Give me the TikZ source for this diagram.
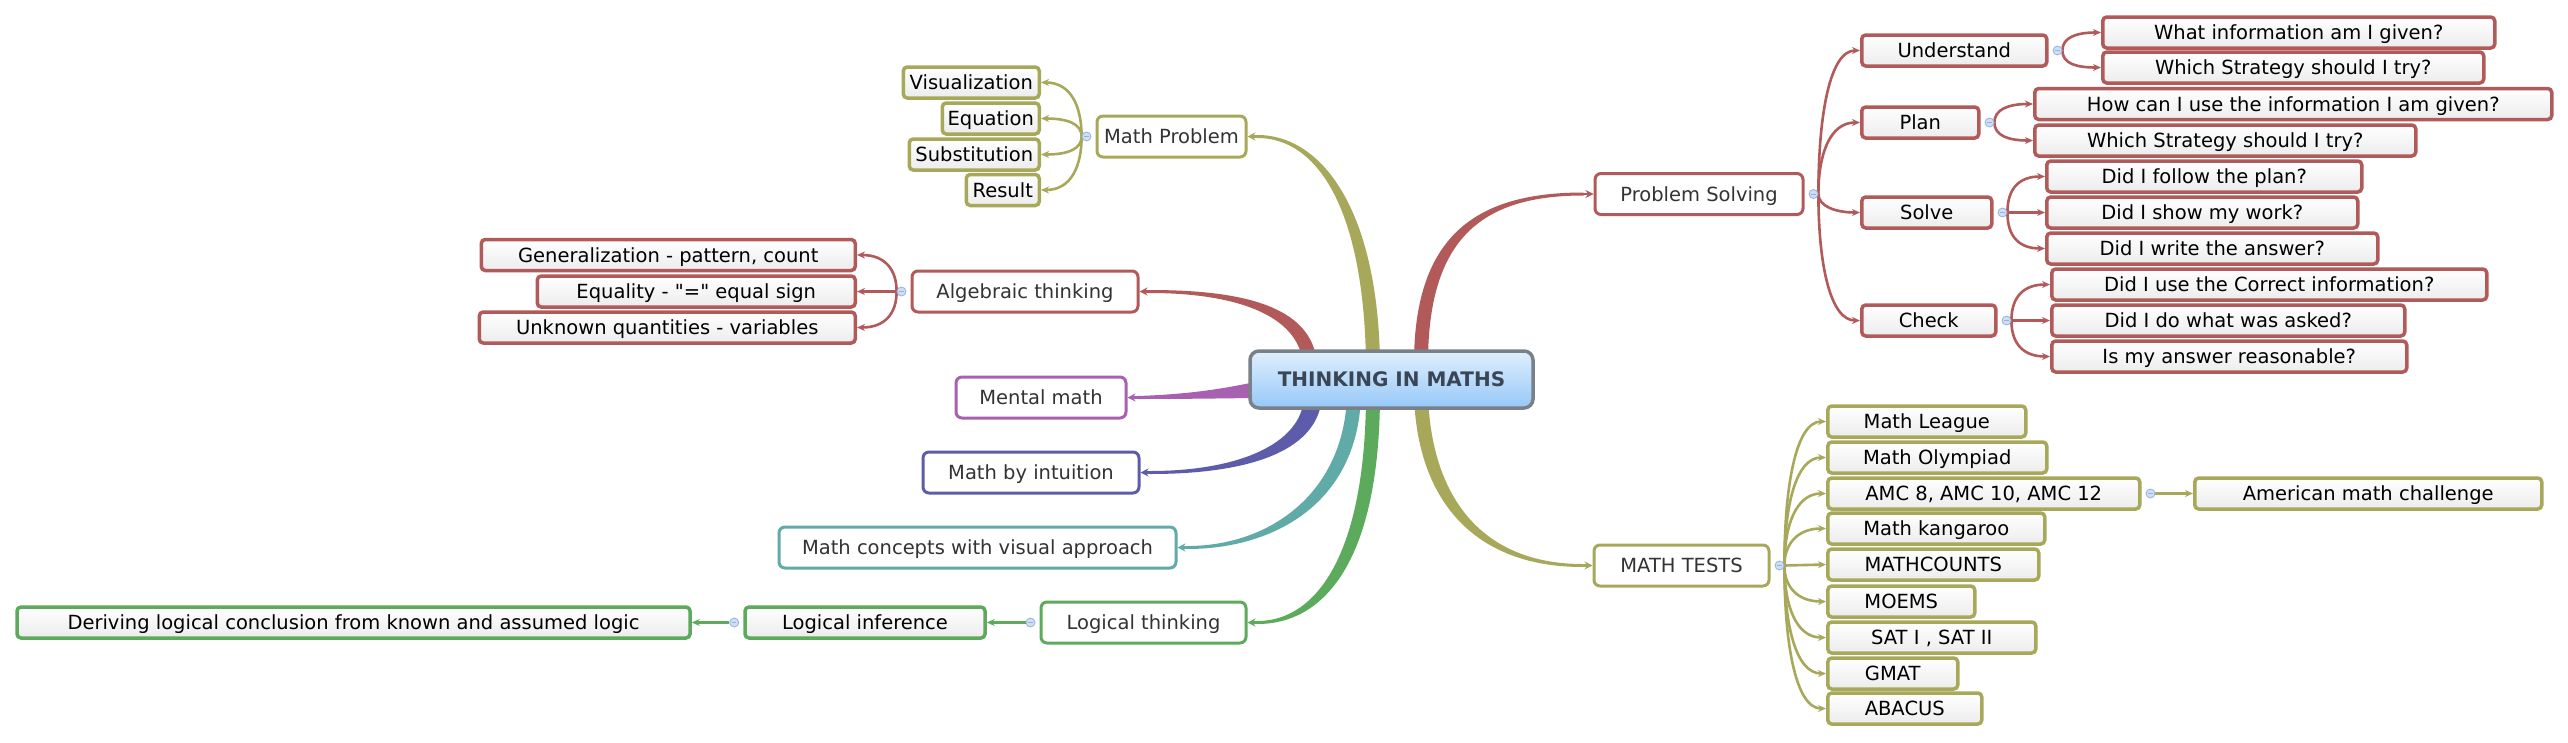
\documentclass[tikz,border=0pt]{standalone}
\usepackage{fontspec}
\setmainfont{DejaVu Sans}[Ligatures=TeXOff]
\usetikzlibrary{arrows.meta,calc,backgrounds}
\definecolor{redc}{RGB}{178,90,90}
\definecolor{olivec}{RGB}{168,168,90}
\definecolor{purplec}{RGB}{168,96,176}
\definecolor{bluec}{RGB}{92,92,170}
\definecolor{tealc}{RGB}{96,170,168}
\definecolor{greenc}{RGB}{92,170,92}
\definecolor{leafbot}{RGB}{236,236,236}
\definecolor{lonetext}{RGB}{51,51,51}
\definecolor{titletext}{RGB}{58,70,85}
\definecolor{ctop}{RGB}{224,239,253}
\definecolor{cbot}{RGB}{150,200,248}
\definecolor{cborder}{RGB}{122,128,136}
\definecolor{dotfill}{RGB}{205,222,245}
\definecolor{dotdraw}{RGB}{150,178,218}
\tikzset{
  lone/.style={draw=#1, line width=3pt, fill=white, rounded corners=6pt, minimum height=41pt, inner sep=0pt, text height=14.2pt, text depth=0pt, text=lonetext, font=\fontsize{19.5}{23}\selectfont},
  ltwo/.style={draw=#1, line width=3.5pt, top color=white, bottom color=leafbot, rounded corners=4pt, minimum height=31pt, inner sep=0pt, text height=14.2pt, text depth=0pt, text=black, font=\fontsize{19.5}{23}\selectfont},
  dot/.style={circle, fill=dotfill, draw=dotdraw, line width=0.8pt, minimum size=9pt, inner sep=0pt,
    path picture={\draw[dotdraw, line width=0.8pt] ([xshift=-2.2pt]path picture bounding box.center) -- ([xshift=2.2pt]path picture bounding box.center);}},
  subline/.style={draw=#1, line width=2.6pt, -{Stealth[length=8pt,width=7pt]}},
  thinarrow/.style={draw=#1, line width=2.5pt, -{Stealth[length=8pt,width=8pt]}},
}
\begin{document}
\begin{tikzpicture}[x=1pt,y=-1pt]
\useasboundingbox (0,0) rectangle (2568,742);
% centre
\node[draw=cborder, line width=3.5pt, top color=ctop, bottom color=cbot, rounded corners=9pt, minimum width=283pt, minimum height=57pt, inner sep=0pt, text height=14.6pt, text depth=0pt, font=\bfseries\fontsize{20}{24}\selectfont, text=titletext] (c) at (1391.5,379.5) {THINKING IN MATHS};
% level one
\node[lone=redc, minimum width=208pt] (ps) at (1699,194) {Problem Solving};
\node[lone=olivec, minimum width=175pt] (mt) at (1681.5,565.5) {MATH TESTS};
\node[lone=olivec, minimum width=149pt] (mp) at (1171.5,136.5) {Math Problem};
\node[lone=redc, minimum width=226pt] (alg) at (1025,291.5) {Algebraic thinking};
\node[lone=purplec, minimum width=170pt] (mm) at (1041,397.5) {Mental math};
\node[lone=bluec, minimum width=216pt] (mbi) at (1031,472.5) {Math by intuition};
\node[lone=tealc, minimum width=397pt] (mc) at (977.5,547.5) {Math concepts with visual approach};
\node[lone=greenc, minimum width=205pt] (lt) at (1143.5,622.5) {Logical thinking};
% problem solving subtree
\node[ltwo=redc, minimum width=185pt, anchor=west] (und) at (1860,50.5) {Understand};
\node[ltwo=redc, minimum width=117pt, anchor=west] (pla) at (1860,122.5) {Plan};
\node[ltwo=redc, minimum width=130pt, anchor=west] (sol) at (1860,212.5) {Solve};
\node[ltwo=redc, minimum width=134pt, anchor=west] (chk) at (1860,320.5) {Check};
\node[ltwo=redc, minimum width=392pt, anchor=west] (wi) at (2101,32.5) {What information am I given?};
\node[ltwo=redc, minimum width=381pt, anchor=west] (wsa) at (2101,67.5) {Which Strategy should I try?};
\node[ltwo=redc, minimum width=517pt, anchor=west] (hc) at (2033,104) {How can I use the information I am given?};
\node[ltwo=redc, minimum width=381pt, anchor=west] (wsb) at (2033,140.5) {Which Strategy should I try?};
\node[ltwo=redc, minimum width=315pt, anchor=west] (dfp) at (2045,176.5) {Did I follow the plan?};
\node[ltwo=redc, minimum width=311pt, anchor=west] (dsw) at (2045,212.5) {Did I show my work?};
\node[ltwo=redc, minimum width=331pt, anchor=west] (dwa) at (2045,248.5) {Did I write the answer?};
\node[ltwo=redc, minimum width=435pt, anchor=west] (duc) at (2050,284.5) {Did I use the Correct information?};
\node[ltwo=redc, minimum width=353pt, anchor=west] (ddw) at (2050,320.5) {Did I do what was asked?};
\node[ltwo=redc, minimum width=355pt, anchor=west] (iar) at (2050,356.5) {Is my answer reasonable?};
% math tests subtree
\node[ltwo=olivec, minimum width=198pt, anchor=west] (mlg) at (1826,421.5) {Math League};
\node[ltwo=olivec, minimum width=219pt, anchor=west] (mol) at (1826,457.5) {Math Olympiad};
\node[ltwo=olivec, minimum width=312pt, anchor=west] (amc) at (1826,493.5) {AMC 8, AMC 10, AMC 12};
\node[ltwo=olivec, minimum width=347pt, anchor=west] (amer) at (2193,493.5) {American math challenge};
\node[ltwo=olivec, minimum width=217pt, anchor=west] (mkg) at (1826,528.5) {Math kangaroo};
\node[ltwo=olivec, minimum width=211pt, anchor=west] (mcn) at (1826,564.5) {MATHCOUNTS};
\node[ltwo=olivec, minimum width=147pt, anchor=west] (moe) at (1826,601.5) {MOEMS};
\node[ltwo=olivec, minimum width=208pt, anchor=west] (sat) at (1826,637.5) {SAT I , SAT II};
\node[ltwo=olivec, minimum width=130pt, anchor=west] (gma) at (1826,673.5) {GMAT};
\node[ltwo=olivec, minimum width=154pt, anchor=west] (aba) at (1826,708.5) {ABACUS};
% math problem subtree
\node[ltwo=olivec, minimum width=136pt, anchor=east] (vis) at (1041,82.5) {Visualization};
\node[ltwo=olivec, minimum width=97pt, anchor=east] (equ) at (1041,118.5) {Equation};
\node[ltwo=olivec, minimum width=130pt, anchor=east] (sub) at (1041,154.5) {Substitution};
\node[ltwo=olivec, minimum width=73pt, anchor=east] (res) at (1041,190) {Result};
% algebraic subtree
\node[ltwo=redc, minimum width=374pt, anchor=east] (gen) at (857,255) {Generalization - pattern, count};
\node[ltwo=redc, minimum width=318pt, anchor=east] (eqs) at (857,291.5) {Equality - "=" equal sign};
\node[ltwo=redc, minimum width=376pt, anchor=east] (unk) at (857,327.5) {Unknown quantities - variables};
% logical subtree
\node[ltwo=greenc, minimum width=240pt] (li) at (865,622.5) {Logical inference};
\node[ltwo=greenc, minimum width=673pt] (der) at (353.5,622.5) {Deriving logical conclusion from known and assumed logic};
% collapse dots
\node[dot] (psd) at ($(ps.east)+(9,0)$) {};
\node[dot] (undd) at ($(und.east)+(9,0)$) {};
\node[dot] (plad) at ($(pla.east)+(9,0)$) {};
\node[dot] (sold) at ($(sol.east)+(9,0)$) {};
\node[dot] (chkd) at ($(chk.east)+(9,0)$) {};
\node[dot] (mtd) at ($(mt.east)+(9,0)$) {};
\node[dot] (amcd) at ($(amc.east)+(9,0)$) {};
\node[dot] (mpd) at ($(mp.west)+(-9,0)$) {};
\node[dot] (algd) at ($(alg.west)+(-9,0)$) {};
\node[dot] (ltd) at ($(lt.west)+(-9,0)$) {};
\node[dot] (lid) at ($(li.west)+(-9,0)$) {};

\begin{scope}[on background layer]
\fill[white] (0,0) rectangle (2568,742);
% thick branches
\fill[olivec] ($(c.north)+(-11.5,14)$) .. controls (1378,210) and (1322,135) .. ($(mp.east)+(10,-1.5)$) -- ($(mp.east)+(10,1.5)$) .. controls (1318,138) and (1364,210) .. ($(c.north)+(-25.5,14)$) -- cycle;
\fill[redc] ($(c.north)+(22.5,14)$) .. controls (1414,232) and (1480,192.5) .. ($(ps.west)+(-10,-1.5)$) -- ($(ps.west)+(-10,1.5)$) .. controls (1482,195.5) and (1428,238) .. ($(c.north)+(36.5,14)$) -- cycle;
\fill[redc] ($(c.north)+(-74.5,14)$) .. controls (1312,305) and (1240,290) .. ($(alg.east)+(10,-1.5)$) -- ($(alg.east)+(10,1.5)$) .. controls (1236,293) and (1298,315) .. ($(c.north)+(-88.5,14)$) -- cycle;
\fill[purplec] ($(c.west)+(12,1.5)$) .. controls (1235,386) and (1200,394) .. ($(mm.east)+(10,-1.5)$) -- ($(mm.east)+(10,1.5)$) .. controls (1200,399) and (1240,398) .. ($(c.west)+(12,18.5)$) -- cycle;
\fill[bluec] ($(c.south)+(-69.5,-13)$) .. controls (1318,455) and (1240,474) .. ($(mbi.east)+(10,1.5)$) -- ($(mbi.east)+(10,-1.5)$) .. controls (1236,471) and (1302,445) .. ($(c.south)+(-87.5,-13)$) -- cycle;
\fill[tealc] ($(c.south)+(-30.5,-13)$) .. controls (1357,505) and (1272,549) .. ($(mc.east)+(10,1.5)$) -- ($(mc.east)+(10,-1.5)$) .. controls (1268,546) and (1343,495) .. ($(c.south)+(-44.5,-13)$) -- cycle;
\fill[greenc] ($(c.south)+(-11.5,-13)$) .. controls (1379,565) and (1322,624) .. ($(lt.east)+(10,1.5)$) -- ($(lt.east)+(10,-1.5)$) .. controls (1316,621) and (1365,555) .. ($(c.south)+(-25.5,-13)$) -- cycle;
\fill[olivec] ($(c.south)+(22.5,-13)$) .. controls (1418,505) and (1478,567) .. ($(mt.west)+(-10,1.5)$) -- ($(mt.west)+(-10,-1.5)$) .. controls (1484,564) and (1432,500) .. ($(c.south)+(36.5,-13)$) -- cycle;
\draw[thinarrow=olivec] ($(mp.east)+(14,0)$) -- (mp.east);
\draw[thinarrow=redc] ($(ps.west)+(-14,0)$) -- (ps.west);
\draw[thinarrow=redc] ($(alg.east)+(14,0)$) -- (alg.east);
\draw[thinarrow=purplec] ($(mm.east)+(14,0)$) -- (mm.east);
\draw[thinarrow=bluec] ($(mbi.east)+(14,0)$) -- (mbi.east);
\draw[thinarrow=tealc] ($(mc.east)+(14,0)$) -- (mc.east);
\draw[thinarrow=greenc] ($(lt.east)+(14,0)$) -- (lt.east);
\draw[thinarrow=olivec] ($(mt.west)+(-14,0)$) -- (mt.west);
% problem solving connectors
\draw[subline=redc] (psd.east) .. controls +(0,-80) and +(-30,0) .. (und.west);
\draw[subline=redc] (psd.east) .. controls +(0,-40) and +(-30,0) .. (pla.west);
\draw[subline=redc] (psd.east) .. controls +(0,12) and +(-25,0) .. (sol.west);
\draw[subline=redc] (psd.east) .. controls +(0,70) and +(-30,0) .. (chk.west);
\draw[subline=redc] (undd.east) .. controls +(0,-13) and +(-25,0) .. (wi.west);
\draw[subline=redc] (undd.east) .. controls +(0,13) and +(-25,0) .. (wsa.west);
\draw[subline=redc] (plad.east) .. controls +(0,-13) and +(-25,0) .. (hc.west);
\draw[subline=redc] (plad.east) .. controls +(0,13) and +(-25,0) .. (wsb.west);
\draw[subline=redc] (sold.east) .. controls +(0,-25) and +(-25,0) .. (dfp.west);
\draw[subline=redc] (sold.east) -- (dsw.west);
\draw[subline=redc] (sold.east) .. controls +(0,25) and +(-25,0) .. (dwa.west);
\draw[subline=redc] (chkd.east) .. controls +(0,-25) and +(-25,0) .. (duc.west);
\draw[subline=redc] (chkd.east) -- (ddw.west);
\draw[subline=redc] (chkd.east) .. controls +(0,25) and +(-25,0) .. (iar.west);
% math tests connectors
\draw[subline=olivec] (mtd.east) .. controls +(0,-80) and +(-30,0) .. (mlg.west);
\draw[subline=olivec] (mtd.east) .. controls +(0,-60) and +(-30,0) .. (mol.west);
\draw[subline=olivec] (mtd.east) .. controls +(0,-40) and +(-30,0) .. (amc.west);
\draw[subline=olivec] (mtd.east) .. controls +(0,-22) and +(-28,0) .. (mkg.west);
\draw[subline=olivec] (mtd.east) -- (mcn.west);
\draw[subline=olivec] (mtd.east) .. controls +(0,22) and +(-28,0) .. (moe.west);
\draw[subline=olivec] (mtd.east) .. controls +(0,40) and +(-30,0) .. (sat.west);
\draw[subline=olivec] (mtd.east) .. controls +(0,60) and +(-30,0) .. (gma.west);
\draw[subline=olivec] (mtd.east) .. controls +(0,80) and +(-30,0) .. (aba.west);
\draw[subline=olivec] (amcd.east) -- (amer.west);
% math problem connectors
\draw[subline=olivec] (mpd.west) .. controls +(0,-30) and +(30,0) .. (vis.east);
\draw[subline=olivec] (mpd.west) .. controls +(0,-12) and +(28,0) .. (equ.east);
\draw[subline=olivec] (mpd.west) .. controls +(0,12) and +(28,0) .. (sub.east);
\draw[subline=olivec] (mpd.west) .. controls +(0,30) and +(30,0) .. (res.east);
% algebraic connectors
\draw[subline=redc] (algd.west) .. controls +(0,-22) and +(28,0) .. (gen.east);
\draw[subline=redc] (algd.west) -- (eqs.east);
\draw[subline=redc] (algd.west) .. controls +(0,22) and +(28,0) .. (unk.east);
% logical connectors
\draw[subline=greenc] (ltd.west) -- (li.east);
\draw[subline=greenc] (lid.west) -- (der.east);
\end{scope}
\end{tikzpicture}
\end{document}
